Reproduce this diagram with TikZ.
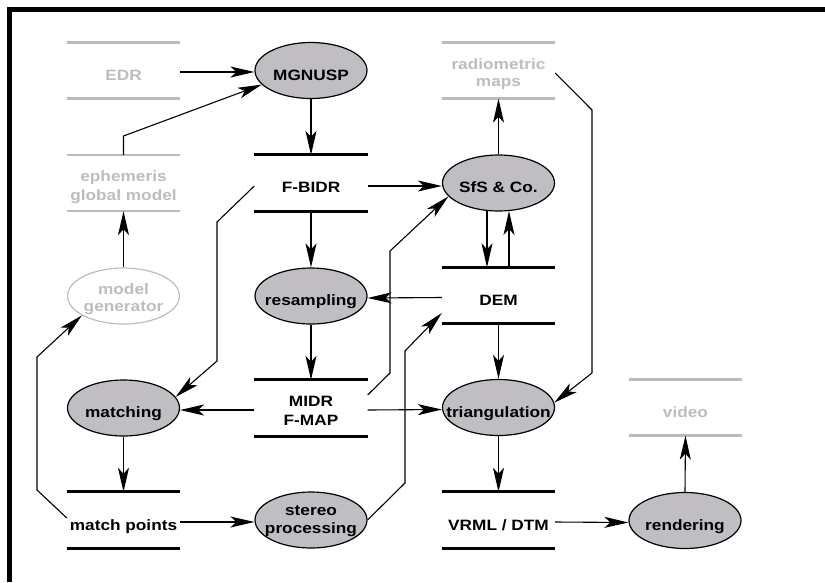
\documentclass[tikz,border=0pt]{standalone}
\usepackage{fontspec}
\setmainfont{Liberation Sans}[FakeStretch=1.15]
\usetikzlibrary{shapes.geometric,arrows.meta}
\definecolor{procfill}{HTML}{C0BEC2}
\definecolor{ltgray}{HTML}{BDBDBD}
\definecolor{lnlight}{HTML}{BBBBBB}
\begin{document}
\begin{tikzpicture}[x=1pt,y=-1pt,
  proc/.style={ellipse, draw=black, line width=1.2pt, fill=procfill, minimum width=112pt, minimum height=56pt, inner sep=0pt},
  procgray/.style={proc, draw=ltgray, fill=white},
  store/.style={rectangle, inner sep=0pt, minimum width=113pt, minimum height=56pt},
  txt/.style={inner sep=0pt, anchor=base, font=\bfseries\fontsize{15}{18}\selectfont},
  gtxt/.style={txt, text=ltgray},
  arr/.style={-{Stealth[length=24pt,width=11pt,inset=6pt]}, line width=1.1pt},
  sline/.style={line width=3pt},
  gline/.style={line width=2.5pt, draw=lnlight}]
\useasboundingbox (0,0) rectangle (825,582);
% frame
\draw[line width=5pt] (9,582) -- (9,9.5) -- (825,9.5);

% data stores
\node[store] (edr) at (123.5,70.5) {};
\node[store] (ephem) at (123.5,183) {};
\node[store] (fbidr) at (311,183) {};
\node[store] (radio) at (498.5,70.5) {};
\node[store] (dem) at (498.5,295.5) {};
\node[store] (midr) at (311,408) {};
\node[store] (video) at (685.5,407.5) {};
\node[store] (matchpts) at (123.5,520) {};
\node[store] (vrml) at (498.5,520) {};

\foreach \n in {fbidr,dem,midr,matchpts,vrml}
  \draw[sline] (\n.north west) -- (\n.north east) (\n.south west) -- (\n.south east);
\foreach \n in {edr,ephem,radio,video}
  \draw[gline] (\n.north west) -- (\n.north east) (\n.south west) -- (\n.south east);

% processes
\node[proc] (mgnusp) at (311,70.5) {};
\node[proc] (sfs) at (498.5,183) {};
\node[procgray] (modelgen) at (123.5,296) {};
\node[proc] (resamp) at (311,296) {};
\node[proc] (matching) at (123.5,408) {};
\node[proc] (tri) at (498.5,407.5) {};
\node[proc] (stereo) at (311,520) {};
\node[proc] (render) at (685,520.5) {};

% texts
\node[gtxt] (edr-t) at ([yshift=-9.5pt]edr.center) {EDR};
\node[gtxt] (ephem-t1) at ([yshift=1.5pt]ephem.center) {ephemeris};
\node[gtxt] (ephem-t2) at ([yshift=-17pt]ephem.center) {global model};
\node[txt] (fbidr-t) at ([yshift=-9.5pt]fbidr.center) {F-BIDR};
\node[gtxt] (radio-t1) at ([yshift=1.5pt]radio.center) {radiometric};
\node[gtxt] (radio-t2) at ([yshift=-16pt]radio.center) {maps};
\node[txt] (dem-t) at ([yshift=-9.5pt]dem.center) {DEM};
\node[txt] (midr-t1) at ([yshift=1.5pt]midr.center) {MIDR};
\node[txt] (midr-t2) at ([yshift=-17pt]midr.center) {F-MAP};
\node[gtxt] (video-t) at ([yshift=-9.5pt]video.center) {video};
\node[txt] (matchpts-t) at ([yshift=-10pt]matchpts.center) {match points};
\node[txt] (vrml-t) at ([yshift=-10pt]vrml.center) {VRML / DTM};

\node[txt] (mgnusp-t) at ([yshift=-10pt]mgnusp.center) {MGNUSP};
\node[txt] (sfs-t) at ([yshift=-9pt]sfs.center) {SfS \& Co.};
\node[gtxt] (modelgen-t1) at ([yshift=2pt]modelgen.center) {model};
\node[gtxt] (modelgen-t2) at ([yshift=-15.5pt]modelgen.center) {generator};
\node[txt] (resamp-t) at ([yshift=-9.5pt]resamp.center) {resampling};
\node[txt] (matching-t) at ([yshift=-9.5pt]matching.center) {matching};
\node[txt] (tri-t) at ([yshift=-10pt]tri.center) {triangulation};
\node[txt] (stereo-t1) at ([yshift=5pt]stereo.center) {stereo};
\node[txt] (stereo-t2) at ([yshift=-13pt]stereo.center) {processing};
\node[txt] (render-t) at ([yshift=-9.5pt]render.center) {rendering};

% connectors
\draw[arr] ([yshift=-1.5pt]edr.east) -- ([yshift=-1.5pt]mgnusp.west);
\draw[arr] (ephem.north) -- (123.5,136) -- (mgnusp.196);
\draw[arr] (mgnusp.south) -- (fbidr.north);
\draw[arr] ([yshift=-3pt]fbidr.east) -- ([yshift=-3pt]sfs.west);
\draw[arr] (fbidr.south) -- (resamp.north);
\draw[arr] ([yshift=-3pt]fbidr.west) -- (217,222) -- (217,361) -- (matching.12);
\draw[arr] (modelgen.north) -- (ephem.south);
\draw[arr] ([yshift=2pt]matchpts.west) -- (37,490) -- (37,357) -- (modelgen.205);
\draw[arr] (matching.south) -- (matchpts.north);
\draw[arr] ([yshift=-2pt]midr.west) -- ([yshift=-2pt]matching.east);
\draw[arr] ([yshift=-2pt]midr.east) -- ([yshift=-2pt]tri.west);
\draw[arr] ([yshift=13pt]midr.east) -- (390,373) -- (390,251) -- (sfs.195);
\draw[arr] ([yshift=-2pt]dem.west) -- ([yshift=-2pt]resamp.east);
\draw[arr] (resamp.south) -- (midr.north);
\draw[arr] (stereo.east) -- (405,483) -- (405,351) -- ([yshift=-17.5pt]dem.west);
\draw[arr] ([yshift=-2pt]matchpts.east) -- ([yshift=-2pt]stereo.west);
\draw[arr] ([xshift=-11.5pt,yshift=0.6pt]sfs.south) -- ([xshift=-11.5pt]dem.north);
\draw[arr] ([xshift=10.5pt]dem.north) -- ([xshift=10.5pt,yshift=0.6pt]sfs.south);
\draw[arr] (sfs.north) -- (radio.south);
\draw[arr] ([yshift=-2.5pt]radio.east) -- (592,110) -- (592,373) -- (tri.5);
\draw[arr] (dem.south) -- (tri.north);
\draw[arr] (tri.south) -- (vrml.north);
\draw[arr] ([yshift=-2pt]vrml.east) -- ([yshift=-2pt]render.west);
\draw[arr] (render.north) -- (video.south);
\end{tikzpicture}
\end{document}
